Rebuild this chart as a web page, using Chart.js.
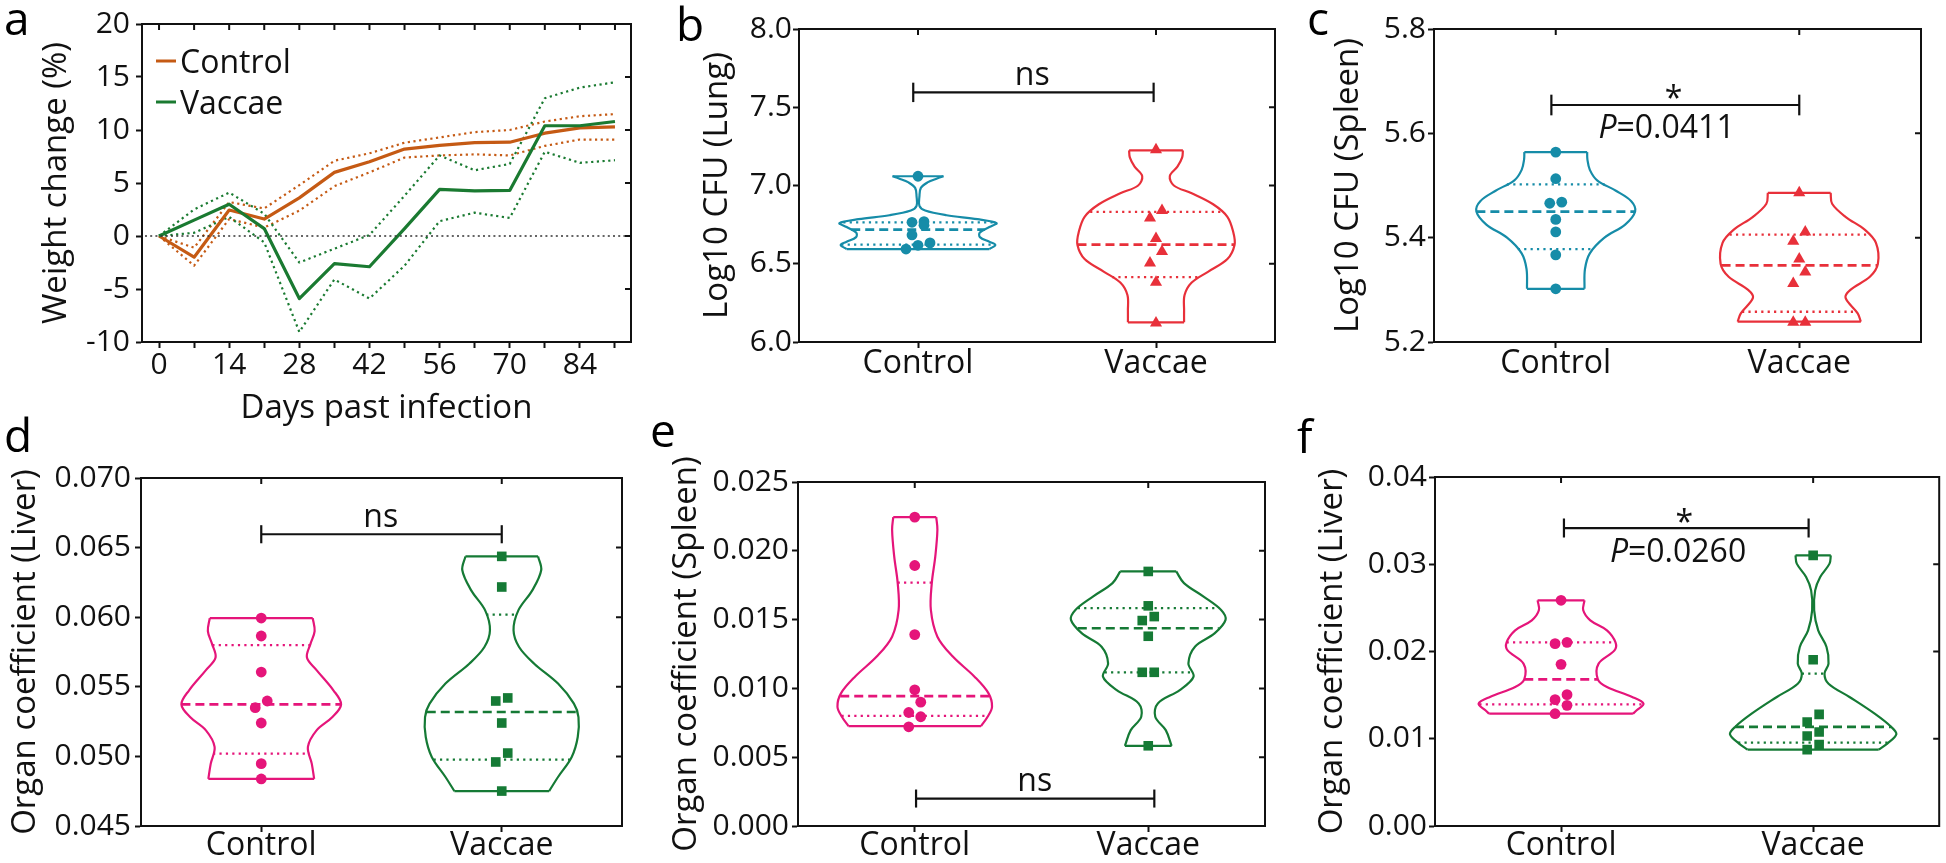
<!DOCTYPE html>
<html><head><meta charset="utf-8">
<script src="https://cdn.jsdelivr.net/npm/chart.js@4.4.1/dist/chart.umd.min.js"></script>
<style>
html,body{margin:0;padding:0;background:#fff;}
body{width:1946px;height:863px;overflow:hidden;position:relative;}
canvas{position:absolute;}
</style>
</head><body>
<canvas id="pa"></canvas><canvas id="pb"></canvas><canvas id="pc"></canvas>
<canvas id="pd"></canvas><canvas id="pe"></canvas><canvas id="pf"></canvas>
<script>
// ---------------- DATA ----------------
const groups = ['Control', 'Vaccae'];

// (a) weight change
const days = [0, 7, 14, 21, 28, 35, 42, 49, 56, 63, 70, 77, 84, 91];
const controlMean  = [0, -2.0, 2.45, 1.6, 3.6, 6.0, 7.0, 8.2, 8.55, 8.8, 8.85, 9.7, 10.2, 10.3];
const controlUpper = [0, -1.1, 3.2, 2.6, 4.8, 7.1, 7.8, 8.8, 9.3, 9.8, 10.0, 10.8, 11.3, 11.5];
const controlLower = [0, -2.8, 1.6, 0.8, 2.4, 4.7, 6.0, 7.4, 7.6, 7.7, 7.6, 8.5, 9.1, 9.1];
const vaccaeMean   = [0, 1.5, 3.0, 0.7, -5.9, -2.6, -2.9, 0.7, 4.4, 4.25, 4.3, 10.4, 10.4, 10.8];
const vaccaeUpper  = [0, 2.5, 4.1, 2.1, -2.5, -1.2, 0.1, 3.8, 7.6, 6.2, 6.8, 13.0, 14.0, 14.5];
const vaccaeLower  = [0, 0.3, 1.8, -0.6, -9.05, -4.1, -5.9, -2.8, 1.4, 2.2, 1.7, 7.95, 6.9, 7.15];
const weightTicks = [-10, -5, 0, 5, 10, 15, 20];
const dayTicks = [0, 7, 14, 21, 28, 35, 42, 49, 56, 63, 70, 77, 84, 91];

// (b) Log10 CFU lung
const lungControl = [7.059, 6.769, 6.765, 6.746, 6.684, 6.633, 6.618, 6.594];
const lungVaccae  = [7.229, 6.841, 6.792, 6.662, 6.579, 6.505, 6.381, 6.121];
const lungStatsControl = [6.622, 6.718, 6.765];   // q1, median, q3
const lungStatsVaccae  = [6.415, 6.622, 6.831];
const lungShapeControl = [[7.059,0.107],[7.045,0.08],[7.02,0.04],[6.985,0.012],[6.93,0.006],[6.87,0.006],[6.84,0.03],[6.81,0.12],[6.785,0.25],[6.76,0.33],[6.735,0.30],[6.70,0.26],[6.67,0.26],[6.64,0.30],[6.62,0.325],[6.594,0.30]];
const lungShapeVaccae  = [[7.225,0.113],[7.18,0.11],[7.12,0.09],[7.06,0.058],[7.00,0.075],[6.95,0.15],[6.88,0.24],[6.80,0.30],[6.70,0.325],[6.62,0.33],[6.53,0.30],[6.45,0.22],[6.38,0.15],[6.30,0.12],[6.20,0.118],[6.126,0.118]];
const lungTicks = [6.0, 6.5, 7.0, 7.5, 8.0];

// (c) Log10 CFU spleen
const spleenCfuControl = [5.564, 5.513, 5.468, 5.466, 5.435, 5.411, 5.367, 5.302];
const spleenCfuVaccae  = [5.486, 5.411, 5.393, 5.359, 5.334, 5.312, 5.238, 5.238];
const spleenCfuStatsControl = [5.378, 5.450, 5.502];
const spleenCfuStatsVaccae  = [5.258, 5.347, 5.406];
const spleenCfuShapeControl = [[5.564,0.129],[5.55,0.13],[5.53,0.14],[5.51,0.17],[5.49,0.247],[5.47,0.31],[5.45,0.326],[5.425,0.285],[5.40,0.20],[5.37,0.14],[5.34,0.12],[5.302,0.118]];
const spleenCfuShapeVaccae  = [[5.486,0.129],[5.465,0.135],[5.44,0.19],[5.415,0.27],[5.39,0.315],[5.35,0.323],[5.325,0.29],[5.30,0.21],[5.285,0.19],[5.255,0.24],[5.239,0.253]];
const spleenCfuTicks = [5.2, 5.4, 5.6, 5.8];

// (d) organ coefficient liver
const liverControl = [0.05994, 0.05865, 0.05606, 0.05398, 0.0535, 0.0524, 0.04948, 0.04838];
const liverVaccae  = [0.06437, 0.06217, 0.0542, 0.05398, 0.0524, 0.05024, 0.0496, 0.04751];
const liverStatsControl = [0.0502, 0.05374, 0.0580];
const liverStatsVaccae  = [0.04977, 0.05319, 0.06018];
const liverShapeControl = [[0.05994,0.214],[0.0590,0.222],[0.0581,0.205],[0.0571,0.19],[0.0562,0.23],[0.05475,0.30],[0.05374,0.332],[0.05283,0.296],[0.05187,0.23],[0.05068,0.194],[0.04948,0.21],[0.04838,0.22]];
const liverShapeVaccae  = [[0.06437,0.151],[0.06337,0.164],[0.06193,0.127],[0.06049,0.069],[0.05906,0.049],[0.05786,0.072],[0.05666,0.135],[0.05523,0.234],[0.05379,0.30],[0.05283,0.319],[0.05139,0.316],[0.04996,0.291],[0.04852,0.234],[0.04751,0.197]];
const liverTicks = [0.045, 0.050, 0.055, 0.060, 0.065, 0.070];

// (e) organ coefficient spleen
const spleenControl = [0.02245, 0.01893, 0.01391, 0.0099, 0.0090, 0.00825, 0.00794, 0.00721];
const spleenVaccae  = [0.0185, 0.0160, 0.01522, 0.01493, 0.01379, 0.01117, 0.01117, 0.00583];
const spleenStatsControl = [0.00801, 0.00944, 0.01769];
const spleenStatsVaccae  = [0.01117, 0.01437, 0.01583];
const spleenShapeControl = [[0.02245,0.092],[0.02153,0.097],[0.01959,0.088],[0.01765,0.073],[0.0157,0.069],[0.01376,0.097],[0.01231,0.163],[0.01085,0.256],[0.00964,0.316],[0.00867,0.331],[0.00794,0.312],[0.00726,0.284]];
const spleenShapeVaccae  = [[0.0185,0.12],[0.01765,0.153],[0.01667,0.237],[0.0157,0.312],[0.01498,0.331],[0.014,0.284],[0.01303,0.20],[0.01182,0.172],[0.01085,0.194],[0.00988,0.135],[0.00891,0.041],[0.00794,0.03],[0.00697,0.075],[0.00583,0.10]];
const spleenTicks = [0.000, 0.005, 0.010, 0.015, 0.020, 0.025];

// (f) organ coefficient liver (second experiment)
const liver2Control = [0.02587, 0.02105, 0.0209, 0.01853, 0.01505, 0.01448, 0.01383, 0.01287];
const liver2Vaccae  = [0.03102, 0.01906, 0.0128, 0.01192, 0.01077, 0.01032, 0.00932, 0.00875];
const liver2StatsControl = [0.01394, 0.01681, 0.02105];
const liver2StatsVaccae  = [0.00955, 0.01135, 0.01746];
const liver2ShapeControl = [[0.02587,0.093],[0.02472,0.088],[0.02357,0.116],[0.02243,0.182],[0.02105,0.216],[0.02013,0.212],[0.01861,0.149],[0.01681,0.146],[0.01593,0.182],[0.01479,0.282],[0.01402,0.327],[0.01326,0.30],[0.01287,0.285]];
const liver2ShapeVaccae  = [[0.03102,0.07],[0.03007,0.065],[0.02854,0.028],[0.02701,0.008],[0.02472,0.004],[0.02243,0.02],[0.02052,0.053],[0.01861,0.061],[0.01746,0.045],[0.01631,0.061],[0.01479,0.144],[0.01287,0.244],[0.01135,0.31],[0.01051,0.33],[0.00944,0.294],[0.00875,0.26]];
const liver2Ticks = [0.00, 0.01, 0.02, 0.03, 0.04];

// ---------------- STYLE / LAYOUT ----------------
const FONT = '"Open Sans", "Noto Sans", sans-serif';
const INK = '#111';
const C_ORANGE = '#c55a14', C_GREEN_A = '#1a7a31';
const C_TEAL = '#168ca8', C_RED = '#e8303a', C_PINK = '#e5157a', C_GREEN = '#157a35';

function frameAndText(cfg) {
  return {
    id: 'frame_' + cfg.id,
    afterDatasetsDraw(chart) {
      const ctx = chart.ctx, a = chart.chartArea, xs = chart.scales.x, ys = chart.scales.y;
      ctx.save();
      if (cfg.zeroLine) {
        const y0 = ys.getPixelForValue(0);
        ctx.strokeStyle = '#333'; ctx.lineWidth = 1.6; ctx.setLineDash([2, 3.2]);
        ctx.beginPath(); ctx.moveTo(a.left + 3, y0); ctx.lineTo(a.right, y0); ctx.stroke();
        ctx.setLineDash([]);
      }
      ctx.strokeStyle = INK; ctx.lineWidth = 2;
      ctx.strokeRect(a.left, a.top, a.right - a.left, a.bottom - a.top);
      ctx.beginPath();
      xs.ticks.forEach(t => { const px = xs.getPixelForValue(t.value); ctx.moveTo(px, a.top); ctx.lineTo(px, a.top + 6); });
      ys.ticks.forEach(t => { const py = ys.getPixelForValue(t.value); ctx.moveTo(a.right, py); ctx.lineTo(a.right - 6, py); });
      ctx.stroke();
      ctx.fillStyle = INK; ctx.textBaseline = 'alphabetic';
      (cfg.texts || []).forEach(t => {
        const px = xs.getPixelForValue(t.x), py = ys.getPixelForValue(t.y);
        if (t.italic) {
          ctx.font = 'italic 32px ' + FONT; const w1 = ctx.measureText(t.italic).width;
          ctx.font = '32px ' + FONT; const w2 = ctx.measureText(t.text).width;
          const x0 = px - (w1 + w2) / 2;
          ctx.textAlign = 'left';
          ctx.font = 'italic 32px ' + FONT; ctx.fillText(t.italic, x0, py);
          ctx.font = '32px ' + FONT; ctx.fillText(t.text, x0 + w1, py);
        } else {
          ctx.font = '32px ' + FONT; ctx.textAlign = 'center'; ctx.fillText(t.text, px, py);
        }
      });
      if (cfg.legend) {
        cfg.legend.forEach(l => {
          ctx.strokeStyle = l.color; ctx.lineWidth = 3;
          ctx.beginPath(); ctx.moveTo(l.x - cfg.box.x, l.y - cfg.box.y); ctx.lineTo(l.x + 20 - cfg.box.x, l.y - cfg.box.y); ctx.stroke();
          ctx.fillStyle = INK; ctx.font = '32px ' + FONT; ctx.textAlign = 'left';
          ctx.fillText(l.label, l.x + 24 - cfg.box.x, l.y + 12 - cfg.box.y);
        });
      }
      ctx.fillStyle = '#000'; ctx.font = '46px ' + FONT; ctx.textAlign = 'left';
      ctx.fillText(cfg.letter[0], cfg.letter[1] - cfg.box.x, cfg.letter[2] - cfg.box.y);
      ctx.restore();
    }
  };
}

function makeChart(cfg) {
  const cv = document.getElementById(cfg.id);
  const box = cfg.box, plot = cfg.plot;
  cv.width = box.w; cv.height = box.h;
  cv.style.left = box.x + 'px'; cv.style.top = box.y + 'px';
  const TITLE_FS = 33;
  const grid = { display: true, drawOnChartArea: false, drawTicks: true, tickLength: 6, tickWidth: 2, tickColor: INK };
  const border = { display: true, width: 2, color: INK };
  return new Chart(cv, {
    type: 'scatter',
    data: { datasets: cfg.datasets },
    options: {
      responsive: false, animation: false, devicePixelRatio: 1,
      events: [],
      layout: { padding: { left: 0, top: plot.t - box.y, right: box.x + box.w - plot.r, bottom: 0 } },
      plugins: { legend: { display: false }, tooltip: { enabled: false } },
      scales: {
        x: {
          type: 'linear', min: cfg.xMin, max: cfg.xMax,
          afterBuildTicks: s => { s.ticks = cfg.xTicks.map(v => ({ value: v })); },
          ticks: { callback: cfg.xLabel, font: { family: FONT, size: cfg.xFs, lineHeight: 1 }, color: INK, padding: cfg.xPad, maxRotation: 0, autoSkip: false },
          grid, border,
          title: cfg.xTitle ? { display: true, text: cfg.xTitle, color: INK, font: { family: FONT, size: TITLE_FS }, padding: { top: 0, bottom: cfg.xTitlePad } } : { display: false },
          afterFit: s => { s.height = box.y + box.h - plot.b; s.paddingLeft = 0; s.paddingRight = 0; }
        },
        y: {
          type: 'linear', min: cfg.yMin, max: cfg.yMax,
          afterBuildTicks: s => { s.ticks = cfg.yTicks.map(v => ({ value: v })); },
          ticks: { callback: v => v.toFixed(cfg.yDec), font: { family: FONT, size: 30, lineHeight: 1 }, color: INK, padding: cfg.yPad, autoSkip: false },
          grid, border,
          title: { display: true, text: cfg.yTitle, color: INK, font: { family: FONT, size: TITLE_FS }, padding: { top: cfg.yTitleX - box.x - TITLE_FS * 0.6, bottom: 0 } },
          afterFit: s => { s.width = plot.l - box.x; s.paddingTop = 0; s.paddingBottom = 0; }
        }
      }
    },
    plugins: [frameAndText(cfg)]
  });
}

function lineDs(xs, ys, color, width, dash) {
  return { data: xs.map((x, i) => ({ x, y: ys[i] })), showLine: true, borderColor: color, borderWidth: width,
           borderDash: dash || [], pointRadius: 0, tension: 0, borderCapStyle: 'butt', borderJoinStyle: 'round' };
}
function hwAt(shape, v) {
  const s = shape.slice().sort((a, b) => a[0] - b[0]);
  if (v <= s[0][0]) return s[0][1];
  for (let i = 1; i < s.length; i++) {
    if (v <= s[i][0]) { const t = (v - s[i - 1][0]) / (s[i][0] - s[i - 1][0]); return s[i - 1][1] + t * (s[i][1] - s[i - 1][1]); }
  }
  return s[s.length - 1][1];
}
function swarm(values, pxPerY, pxPerCat) {
  const idx = values.map((v, i) => i).sort((a, b) => values[a] - values[b]);
  const off = new Array(values.length).fill(0);
  let g = [];
  const flush = () => { g.forEach((k, j) => { off[k] = (j - (g.length - 1) / 2) * 12 / pxPerCat; }); g = []; };
  idx.forEach(k => { if (g.length && (values[k] - values[g[0]]) * pxPerY > 12) flush(); g.push(k); });
  flush();
  return off;
}
function violin(c, values, stats, shape, color, style, radius, pxPerY, pxPerCat) {
  const s = shape.slice().sort((a, b) => a[0] - b[0]);
  const lo = s[0], hi = s[s.length - 1];
  const off = swarm(values, pxPerY, pxPerCat);
  const ds = [];
  ds.push({ data: values.map((v, i) => ({ x: c + off[i], y: v })), pointStyle: style, pointRadius: radius,
            backgroundColor: color, borderColor: color, borderWidth: 0, showLine: false });
  const seg = (v, w, dash) => { const h = hwAt(shape, v); return lineDs([c - h, c + h], [v, v], color, w, dash); };
  ds.push(seg(stats[1], 2.7, [9, 5]));
  ds.push(seg(stats[0], 2.3, [2.2, 4.2]));
  ds.push(seg(stats[2], 2.3, [2.2, 4.2]));
  const side = sign => ({ data: s.map(p => ({ x: c + sign * p[1], y: p[0] })), showLine: true, borderColor: color,
                           borderWidth: 2.2, pointRadius: 0, tension: 0.35 });
  ds.push(side(1)); ds.push(side(-1));
  ds.push(lineDs([c - hi[1], c + hi[1]], [hi[0], hi[0]], color, 2.2));
  ds.push(lineDs([c - lo[1], c + lo[1]], [lo[0], lo[0]], color, 2.2));
  return ds;
}
function bracket(x1, x2, y, h) {
  return [lineDs([x1, x2], [y, y], INK, 2.2), lineDs([x1, x1], [y - h, y + h], INK, 2.2), lineDs([x2, x2], [y - h, y + h], INK, 2.2)];
}
const catLabel = v => (v === 0 ? groups[0] : v === 1 ? groups[1] : '');

function violinPanel(o) {
  const pxPerY = (o.plot.b - o.plot.t) / (o.yMax - o.yMin);
  const pxPerCat = (o.plot.r - o.plot.l) / 2;
  const ds = [].concat(
    violin(0, o.ctrl, o.ctrlStats, o.ctrlShape, o.c1, o.s1, o.r1, pxPerY, pxPerCat),
    violin(1, o.vac, o.vacStats, o.vacShape, o.c2, o.s2, o.r2, pxPerY, pxPerCat),
    bracket(o.br[0], o.br[1], o.br[2], o.br[3])
  );
  makeChart({
    id: o.id, box: o.box, plot: o.plot, datasets: ds,
    xMin: -0.5, xMax: 1.5, xTicks: [0, 1], xLabel: catLabel, xFs: 32, xPad: o.xPad,
    yMin: o.yMin, yMax: o.yMax, yTicks: o.yTicks, yDec: o.yDec, yPad: o.yPad,
    yTitle: o.yTitle, yTitleX: o.yTitleX, texts: o.texts, letter: o.letter
  });
}

// ---------------- PANEL a ----------------
makeChart({
  id: 'pa', box: { x: 0, y: 0, w: 650, h: 432 }, plot: { l: 142, t: 24, r: 631, b: 342 },
  datasets: [
    lineDs(days, vaccaeMean, C_GREEN_A, 3.2),
    lineDs(days, controlMean, C_ORANGE, 3.2),
    lineDs(days, vaccaeUpper, C_GREEN_A, 2.2, [2.2, 3.5]),
    lineDs(days, vaccaeLower, C_GREEN_A, 2.2, [2.2, 3.5]),
    lineDs(days, controlUpper, C_ORANGE, 2.2, [2.2, 3.5]),
    lineDs(days, controlLower, C_ORANGE, 2.2, [2.2, 3.5])
  ],
  xMin: -3.4, xMax: 94.2, xTicks: dayTicks, xLabel: v => (v % 14 === 0 && v <= 84 ? String(v) : ''), xFs: 30, xPad: 2,
  xTitle: 'Days past infection', xTitlePad: 4,
  yMin: -10, yMax: 20, yTicks: weightTicks, yDec: 0, yPad: 6,
  yTitle: 'Weight change (%)', yTitleX: 57,
  zeroLine: true,
  legend: [{ x: 156, y: 61, color: C_ORANGE, label: groups[0] }, { x: 156, y: 102, color: C_GREEN_A, label: groups[1] }],
  letter: ['a', 4, 35]
});

// ---------------- PANEL b ----------------
violinPanel({
  id: 'pb', box: { x: 650, y: 0, w: 640, h: 432 }, plot: { l: 799, t: 29, r: 1275, b: 342 },
  yMin: 6.0, yMax: 8.0, yTicks: lungTicks, yDec: 1, yPad: 1, xPad: 0,
  ctrl: lungControl, ctrlStats: lungStatsControl, ctrlShape: lungShapeControl, c1: C_TEAL, s1: 'circle', r1: 5.4,
  vac: lungVaccae, vacStats: lungStatsVaccae, vacShape: lungShapeVaccae, c2: C_RED, s2: 'triangle', r2: 7,
  br: [-0.02, 0.99, 7.595, 0.062],
  texts: [{ x: 0.48, y: 7.645, text: 'ns' }],
  yTitle: 'Log10 CFU (Lung)', yTitleX: 718, letter: ['b', 676, 41]
});

// ---------------- PANEL c ----------------
violinPanel({
  id: 'pc', box: { x: 1290, y: 0, w: 656, h: 432 }, plot: { l: 1434, t: 29, r: 1921, b: 342 },
  yMin: 5.2, yMax: 5.8, yTicks: spleenCfuTicks, yDec: 1, yPad: 2, xPad: 0,
  ctrl: spleenCfuControl, ctrlStats: spleenCfuStatsControl, ctrlShape: spleenCfuShapeControl, c1: C_TEAL, s1: 'circle', r1: 5.4,
  vac: spleenCfuVaccae, vacStats: spleenCfuStatsVaccae, vacShape: spleenCfuShapeVaccae, c2: C_RED, s2: 'triangle', r2: 7,
  br: [-0.018, 1.0, 5.6543, 0.0198],
  texts: [{ x: 0.484, y: 5.6467, text: '*' }, { x: 0.455, y: 5.592, italic: 'P', text: '=0.0411' }],
  yTitle: 'Log10 CFU (Spleen)', yTitleX: 1349, letter: ['c', 1307, 35]
});

// ---------------- PANEL d ----------------
violinPanel({
  id: 'pd', box: { x: 0, y: 405, w: 640, h: 458 }, plot: { l: 141, t: 478, r: 622, b: 826 },
  yMin: 0.045, yMax: 0.070, yTicks: liverTicks, yDec: 3, yPad: 4, xPad: -2,
  ctrl: liverControl, ctrlStats: liverStatsControl, ctrlShape: liverShapeControl, c1: C_PINK, s1: 'circle', r1: 5.4,
  vac: liverVaccae, vacStats: liverStatsVaccae, vacShape: liverShapeVaccae, c2: C_GREEN, s2: 'rect', r2: 6.8,
  br: [0.0, 1.0, 0.06596, 0.00065],
  texts: [{ x: 0.497, y: 0.06648, text: 'ns' }],
  yTitle: 'Organ coefficient (Liver)', yTitleX: 26, letter: ['d', 4, 452]
});

// ---------------- PANEL e ----------------
violinPanel({
  id: 'pe', box: { x: 640, y: 405, w: 650, h: 458 }, plot: { l: 798, t: 482, r: 1265, b: 826 },
  yMin: 0.0, yMax: 0.025, yTicks: spleenTicks, yDec: 3, yPad: 3, xPad: -2,
  ctrl: spleenControl, ctrlStats: spleenStatsControl, ctrlShape: spleenShapeControl, c1: C_PINK, s1: 'circle', r1: 5.4,
  vac: spleenVaccae, vacStats: spleenStatsVaccae, vacShape: spleenShapeVaccae, c2: C_GREEN, s2: 'rect', r2: 6.8,
  br: [0.0056, 1.026, 0.001995, 0.000655],
  texts: [{ x: 0.514, y: 0.002548, text: 'ns' }],
  yTitle: 'Organ coefficient (Spleen)', yTitleX: 687, letter: ['e', 650, 447]
});

// ---------------- PANEL f ----------------
violinPanel({
  id: 'pf', box: { x: 1290, y: 405, w: 656, h: 458 }, plot: { l: 1435, t: 477, r: 1941, b: 826 },
  yMin: 0.0, yMax: 0.04, yTicks: liver2Ticks, yDec: 2, yPad: 2, xPad: -2,
  ctrl: liver2Control, ctrlStats: liver2StatsControl, ctrlShape: liver2ShapeControl, c1: C_PINK, s1: 'circle', r1: 5.4,
  vac: liver2Vaccae, vacStats: liver2StatsVaccae, vacShape: liver2ShapeVaccae, c2: C_GREEN, s2: 'rect', r2: 6.8,
  br: [0.0115, 0.982, 0.03415, 0.00109],
  texts: [{ x: 0.489, y: 0.03363, text: '*' }, { x: 0.464, y: 0.03022, italic: 'P', text: '=0.0260' }],
  yTitle: 'Organ coefficient (Liver)', yTitleX: 1333, letter: ['f', 1297, 453]
});
</script>
</body></html>
